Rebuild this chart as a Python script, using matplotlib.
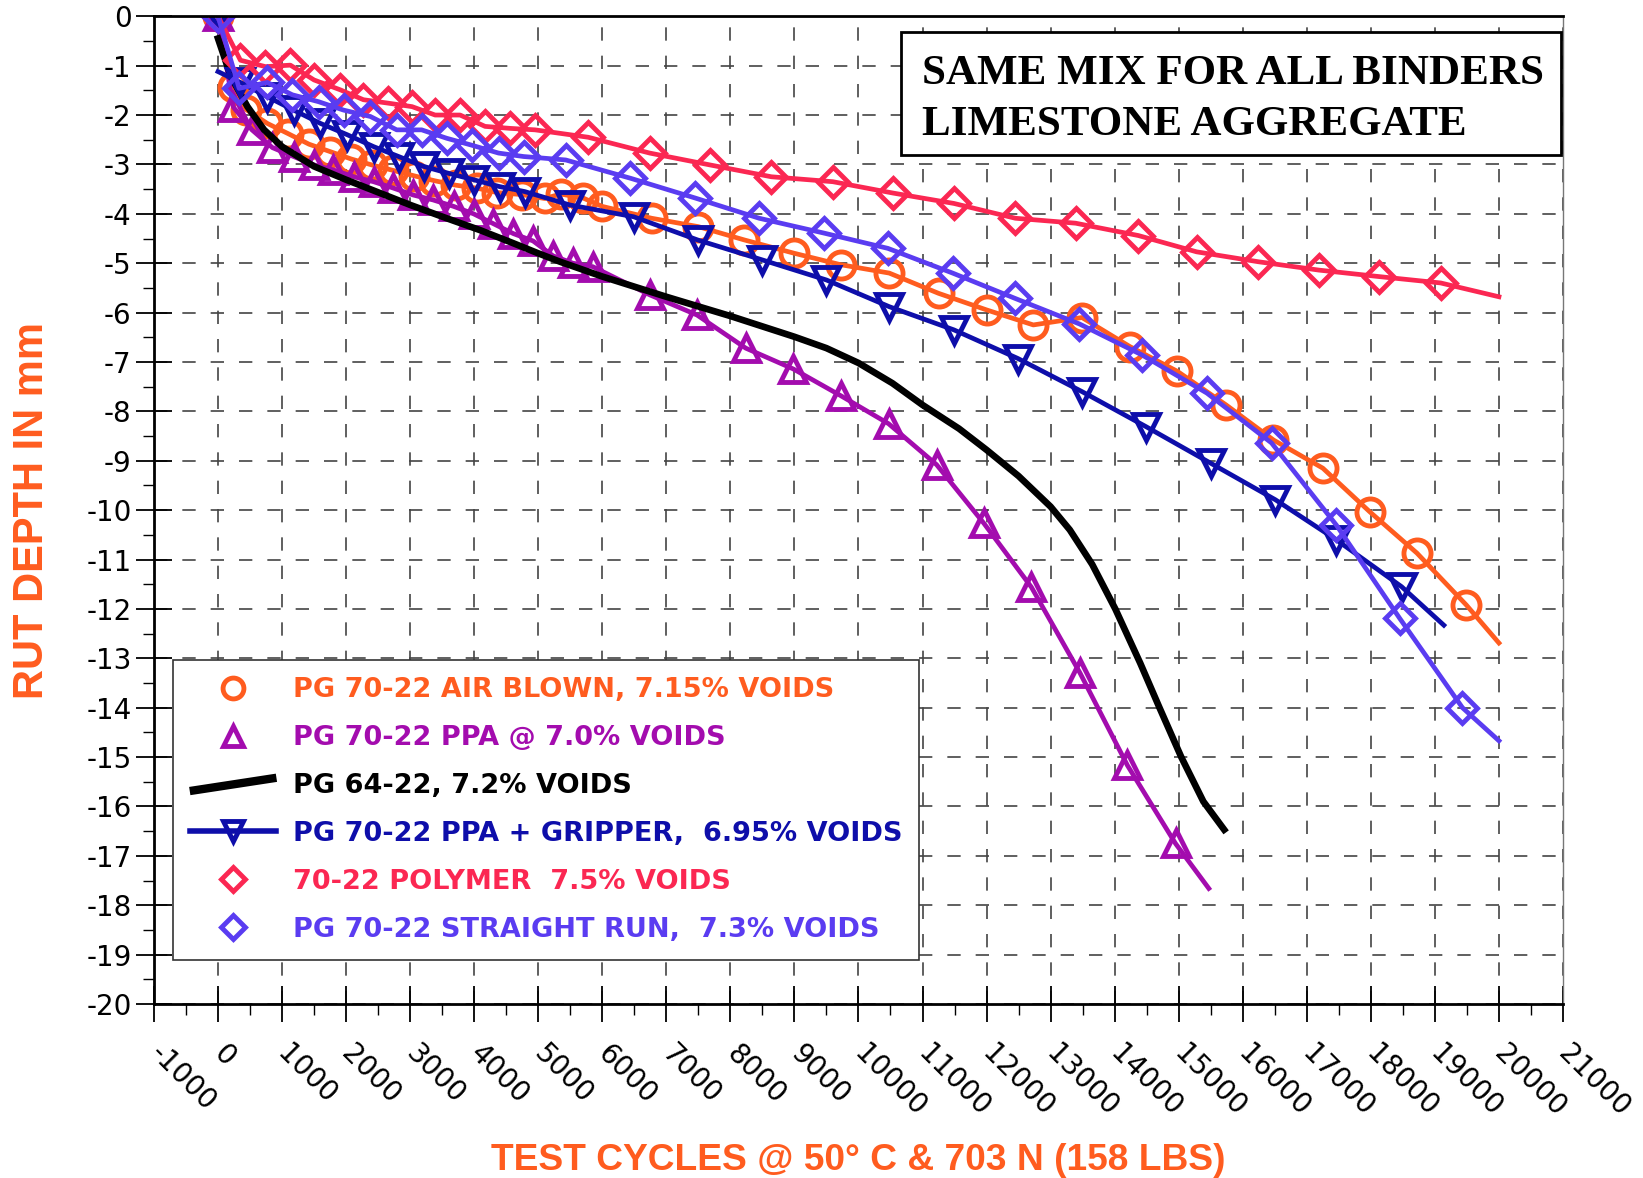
import matplotlib
matplotlib.use('Agg')
import matplotlib.pyplot as plt
from matplotlib.lines import Line2D
from matplotlib.patches import Rectangle
from matplotlib.legend_handler import HandlerBase
from matplotlib.ticker import MultipleLocator

plt.rcParams['axes.unicode_minus'] = False

# PG 70-22 air blown, 7.15% voids
air_x = [0, 230, 440, 770, 1100, 1420, 1750, 2080, 2400, 2730, 3060, 3380, 3710, 4040, 4360,
         4740, 5100, 5350, 5700, 6000, 6770, 7500, 8220, 9000, 9720, 10480, 11250, 12010,
         12730, 13490, 14240, 14980, 15740, 16480, 17250, 17980, 18720, 19490, 20000]
air_y = [0, -1.44, -1.89, -2.17, -2.38, -2.59, -2.74, -2.89, -3.01, -3.12, -3.23, -3.33, -3.42,
         -3.48, -3.57, -3.61, -3.69, -3.6, -3.68, -3.85, -4.09, -4.26, -4.53, -4.8, -5.03, -5.2,
         -5.61, -5.95, -6.25, -6.1, -6.69, -7.19, -7.87, -8.58, -9.15, -10.03, -10.87, -11.92, -12.69]

# PG 70-22 PPA @ 7.0% voids
ppa_x = [0, 240, 530, 850, 1180, 1500, 1800, 2120, 2430, 2740, 3050, 3360, 3680, 3990, 4300,
         4610, 4920, 5230, 5540, 5850, 6740, 7480, 8240, 8980, 9720, 10470, 11220, 11960,
         12700, 13460, 14200, 14950, 15470]
ppa_y = [0, -1.84, -2.3, -2.66, -2.84, -3.01, -3.11, -3.25, -3.35, -3.48, -3.62, -3.72, -3.85,
         -4.0, -4.2, -4.4, -4.55, -4.85, -5.0, -5.07, -5.64, -6.05, -6.72, -7.14, -7.68, -8.25,
         -9.08, -10.27, -11.56, -13.3, -15.17, -16.75, -17.66]

# PG 64-22, 7.2% voids (line only)
pg64_x = [0, 200, 460, 720, 1000, 1500, 2000, 2530, 3000, 3570, 4090, 4600, 5000, 5340, 6000,
          7000, 8000, 9000, 9500, 10000, 10530, 11000, 11570, 12000, 12500, 13000, 13300,
          13650, 14010, 14400, 14700, 15040, 15385, 15710]
pg64_y = [-0.45, -1.22, -1.83, -2.30, -2.64, -3.04, -3.31, -3.58, -3.82, -4.09, -4.33, -4.59,
          -4.80, -4.97, -5.27, -5.68, -6.07, -6.49, -6.72, -7.02, -7.43, -7.87, -8.35, -8.78,
          -9.31, -9.93, -10.4, -11.1, -12.0, -13.1, -14.0, -15.0, -15.9, -16.47]

# PG 70-22 PPA + gripper, 6.95% voids
grip_x = [0, 350, 770, 1180, 1600, 2020, 2430, 2820, 3210, 3600, 3990, 4400, 4790, 5490, 6490,
          7490, 8490, 9500, 10480, 11490, 12490, 13490, 14490, 15500, 16510, 17460, 18480, 19140]
grip_y = [0, -1.34, -1.63, -1.90, -2.17, -2.40, -2.64, -2.84, -3.04, -3.18, -3.31, -3.45, -3.55,
          -3.82, -4.06, -4.53, -4.93, -5.34, -5.88, -6.35, -6.93, -7.6, -8.31, -9.05, -9.79,
          -10.60, -11.55, -12.33]
grip_start = -1.12  # fitted line starts below the first reading

# 70-22 polymer, 7.5% voids
poly_x = [0, 350, 740, 1130, 1500, 1910, 2270, 2660, 3030, 3390, 3780, 4170, 4560, 4950, 5780,
          6740, 7680, 8640, 9600, 10540, 11490, 12450, 13390, 14370, 15280, 16240, 17190,
          18120, 19090, 20000]
poly_y = [0, -0.89, -1.02, -0.99, -1.29, -1.49, -1.69, -1.76, -1.83, -2.0, -2.0, -2.23, -2.27,
          -2.3, -2.45, -2.77, -3.01, -3.25, -3.35, -3.58, -3.79, -4.09, -4.19, -4.44, -4.77,
          -4.97, -5.14, -5.27, -5.40, -5.68]

# PG 70-22 straight run, 7.3% voids
sr_x = [0, 330, 770, 1160, 1570, 1960, 2380, 2790, 3180, 3570, 3960, 4380, 4770, 5430, 6440,
        7450, 8450, 9460, 10460, 11470, 12440, 13450, 14430, 15440, 16450, 17460, 18450, 19430,
        20000]
sr_y = [0, -1.46, -1.34, -1.59, -1.73, -1.90, -2.03, -2.30, -2.30, -2.47, -2.61, -2.77, -2.84,
        -2.91, -3.28, -3.68, -4.09, -4.39, -4.70, -5.20, -5.71, -6.23, -6.86, -7.63, -8.64,
        -10.30, -12.19, -14.0, -14.67]

labels = ['PG 70-22 AIR BLOWN, 7.15% VOIDS',
          'PG 70-22 PPA @ 7.0% VOIDS',
          'PG 64-22, 7.2% VOIDS',
          'PG 70-22 PPA + GRIPPER,  6.95% VOIDS',
          '70-22 POLYMER  7.5% VOIDS',
          'PG 70-22 STRAIGHT RUN,  7.3% VOIDS']

x_ticks = list(range(-1000, 21001, 1000))
y_ticks = list(range(0, -21, -1))

ORANGE = '#ff5c1f'
PURPLE = '#a30cae'
BLACK = '#000000'
NAVY = '#0e0eaa'
RED = '#fb2752'
SLATE = '#5a3cf1'
colors = [ORANGE, PURPLE, BLACK, NAVY, RED, SLATE]

fig = plt.figure(figsize=(16.43, 11.78), dpi=100)
ax = fig.add_axes([0.0937, 0.1477, 0.8576, 0.8385])

mk = dict(mfc='none', mew=3.5)
lw = 3.4
ax.plot(air_x, air_y, color=ORANGE, lw=lw, marker='o', ms=19.5, markevery=slice(0, -1), **mk)
ax.plot(ppa_x, ppa_y, color=PURPLE, lw=lw, marker='^', ms=19, markevery=slice(0, -1), **mk)
ax.plot(pg64_x, pg64_y, color=BLACK, lw=4.8)
ax.plot([0] + grip_x[1:], [grip_start] + grip_y[1:], color=NAVY, lw=lw)
ax.plot(grip_x[:-1], grip_y[:-1], ls='none', color=NAVY, marker='v', ms=19, **mk)
ax.plot(poly_x, poly_y, color=RED, lw=lw, marker='D', ms=15, markevery=slice(0, -1), **mk)
ax.plot(sr_x, sr_y, color=SLATE, lw=lw, marker='D', ms=15, markevery=slice(0, -1), **mk)

ax.set_xlim(-1000, 21000)
ax.set_ylim(-20, 0)
ax.set_xticks(x_ticks)
ax.set_yticks(y_ticks)
ax.xaxis.set_minor_locator(MultipleLocator(500))
ax.yaxis.set_minor_locator(MultipleLocator(0.5))
ax.grid(True, which='major', color='#444444', lw=1.2, linestyle=(0, (8, 9)))

ax.tick_params(which='major', direction='inout', length=26, width=1.3, labelsize=20, pad=3)
ax.tick_params(which='minor', direction='out', length=8, width=1)
ax.tick_params(axis='x', which='major', pad=20)
for lab in ax.get_xticklabels():
    lab.set_rotation(-45)
    lab.set_ha('left')
    lab.set_va('center')
    lab.set_rotation_mode('anchor')

for side in ['left', 'top', 'bottom']:
    ax.spines[side].set_linewidth(2)
ax.spines['right'].set_color('#777777')
ax.spines['right'].set_linewidth(1)

axis_font = dict(family=['Liberation Sans Narrow', 'Liberation Sans'], weight='bold',
                 color=ORANGE)
ax.set_xlabel('TEST CYCLES @ 50° C & 703 N (158 LBS)', size=26.7, **axis_font)
ax.xaxis.set_label_coords(0.5, -0.1405)
ax.set_ylabel('RUT DEPTH IN mm', size=30, **axis_font)
ax.yaxis.set_label_coords(-0.0725, 0.5)

# note box, drawn as its own frame so the text can sit low in it like the original
ax.add_patch(Rectangle((0.5302, 0.8593), 0.4684, 0.1251, transform=ax.transAxes,
                       fc='white', ec='black', lw=2, zorder=5))
ax.text(0.545, 0.9157, 'SAME MIX FOR ALL BINDERS\nLIMESTONE AGGREGATE', transform=ax.transAxes,
        ha='left', va='center', family='Liberation Serif', weight='bold', size=31,
        linespacing=1.42, zorder=6)


class SlantLine(HandlerBase):
    def create_artists(self, legend, orig_handle, xdescent, ydescent, width, height,
                       fontsize, trans):
        line = Line2D([-xdescent, width - xdescent],
                      [0.1 * height - ydescent, 0.8 * height - ydescent],
                      color=BLACK, lw=6, solid_capstyle='butt')
        line.set_transform(trans)
        return [line]


hmk = dict(ls='none', mfc='none', mew=3.5, ms=15)
handles = [Line2D([], [], color=ORANGE, marker='o', **hmk),
           Line2D([], [], color=PURPLE, marker='^', **hmk),
           Line2D([], [], color=BLACK, lw=6),
           Line2D([], [], color=NAVY, lw=4, marker='v', mfc='none', mew=3.5, ms=15),
           Line2D([], [], color=RED, marker='D', ms=12, ls='none', mfc='none', mew=3.5),
           Line2D([], [], color=SLATE, marker='D', ms=12, ls='none', mfc='none', mew=3.5)]

leg = ax.legend(handles, labels, loc='upper left', bbox_to_anchor=(0.0135, 0.348),
                borderaxespad=0, fancybox=False, framealpha=1, edgecolor='#333333',
                prop=dict(family='DejaVu Sans', weight='bold', size=19.5), handlelength=3.2,
                handletextpad=0.6, labelspacing=0.81, borderpad=0.62,
                handler_map={handles[2]: SlantLine()})
leg.get_frame().set_linewidth(1.2)
leg.set_zorder(7)
for txt, c in zip(leg.get_texts(), colors):
    txt.set_color(c)

fig.savefig('out.png', dpi=100)
